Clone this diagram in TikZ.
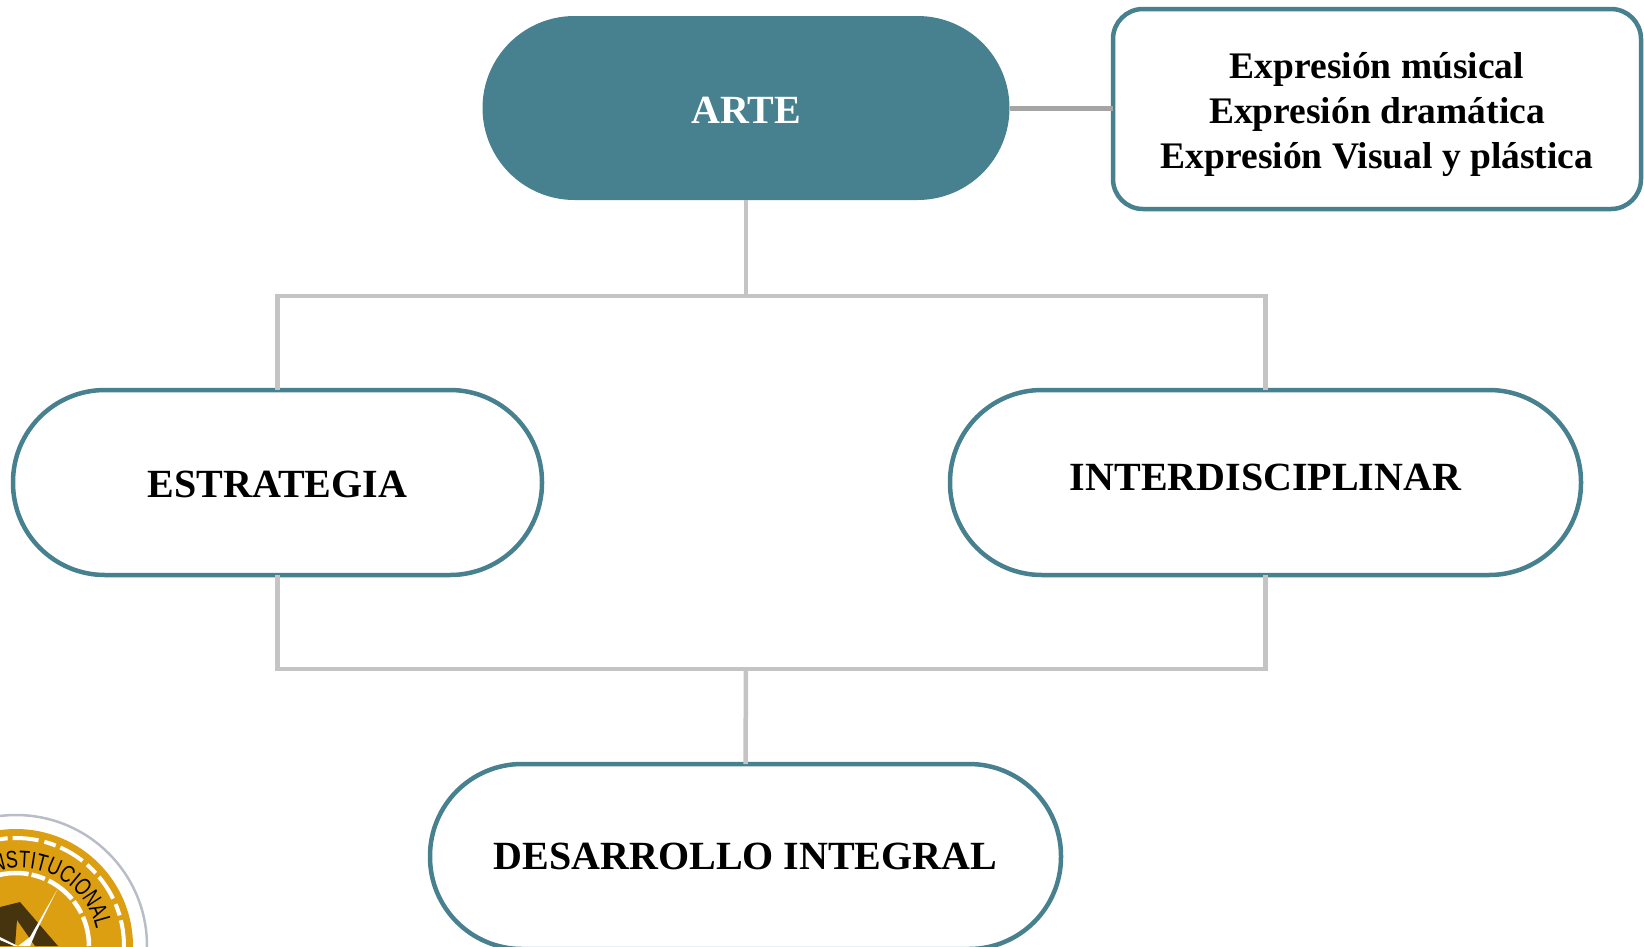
\documentclass[tikz,border=0pt]{standalone}
\usepackage{fontspec}
\setmainfont{Liberation Serif}
\newfontfamily\logofont[FakeStretch=0.75]{Liberation Sans}
\usetikzlibrary{decorations.text}
\definecolor{tealc}{HTML}{47808F}
\definecolor{linec}{HTML}{C4C4C4}
\definecolor{linedark}{HTML}{A5A5A5}
\definecolor{goldc}{HTML}{DD9F12}
\definecolor{brownc}{HTML}{46340F}
\definecolor{ringc}{HTML}{B9BEC6}
\tikzset{
  x=1pt,y=-1pt,
  pill/.style={draw=tealc,line width=4.5pt,fill=white,rounded corners=92pt,inner sep=0pt,outer sep=0pt,align=center,font=\bfseries\fontsize{40}{45}\selectfont},
  pillfull/.style={pill,draw=none,fill=tealc,text=white},
  infobox/.style={draw=tealc,line width=4.5pt,fill=white,rounded corners=30pt,inner sep=0pt,outer sep=0pt,align=center,font=\bfseries\fontsize{37.5}{45}\selectfont},
  conn/.style={draw=linec,line width=4.5pt,line cap=butt,line join=miter},
  conndark/.style={draw=linedark,line width=5pt},
}
\begin{document}
\begin{tikzpicture}
\useasboundingbox (0,0) rectangle (1644,946);
% logo
\begin{scope}
\clip (0,0) rectangle (1644,946);
\draw[ringc,line width=2.5pt] (16,946) circle[radius=131pt];
\fill[goldc] (16,946) circle[radius=117pt];
\draw[white,line width=4pt,dash pattern=on 26pt off 5pt on 12pt off 6pt] (16,946) circle[radius=108pt];
\draw[white,line width=4.5pt,dash pattern=on 30pt off 4pt on 14pt off 3pt] (16,946) circle[radius=73pt];
\fill[brownc] (0,907) -- (20,902) -- (58,946) -- (35,946) -- (17,920) -- (15,946) -- (0,946) -- cycle;
\fill[white] (57,890) -- (30,937) -- (18,946) -- (0,937) -- (0,940) -- (14,946) -- (30,946) -- (37,930) -- cycle;
\path[decorate,decoration={text along path,text align={left},
  text={|\logofont\fontsize{24}{25}\selectfont|INSTITUCIONAL}}]
  (20,946) ++(113:78pt) arc[start angle=113,end angle=-20,radius=78pt];
\end{scope}
% nodes
\node[pillfull,minimum width=527pt,minimum height=184pt] (arte) at (746,108) {\rule{0pt}{31pt}ARTE};
\node[infobox,minimum width=528pt,minimum height=200pt] (info) at (1377,109) {\rule{0pt}{38pt}Expresión músical\\Expresión dramática\\Expresión Visual y plástica};
\node[pill,minimum width=529pt,minimum height=185pt] (estr) at (277.5,482.5) {\rule{0pt}{30pt}ESTRATEGIA};
\node[pill,minimum width=631pt,minimum height=185pt] (inter) at (1265.5,482.5) {\raisebox{10pt}{INTERDISCIPLINAR}};
\node[pill,minimum width=631pt,minimum height=185pt] (desa) at (745.5,856.5) {DESARROLLO INTEGRAL};
% connectors
\coordinate (top) at (746,296);
\coordinate (bot) at (746,669);
\draw[conndark] (arte.east) -- (arte.east -| info.west);
\draw[conn] (arte.south) -- (top);
\draw[conn] (estr.north) |- (top) -| (inter.north);
\draw[conn] (estr.south) |- (bot) -| (inter.south);
\draw[conn] (bot) -- (desa.north);
\end{tikzpicture}
\end{document}
